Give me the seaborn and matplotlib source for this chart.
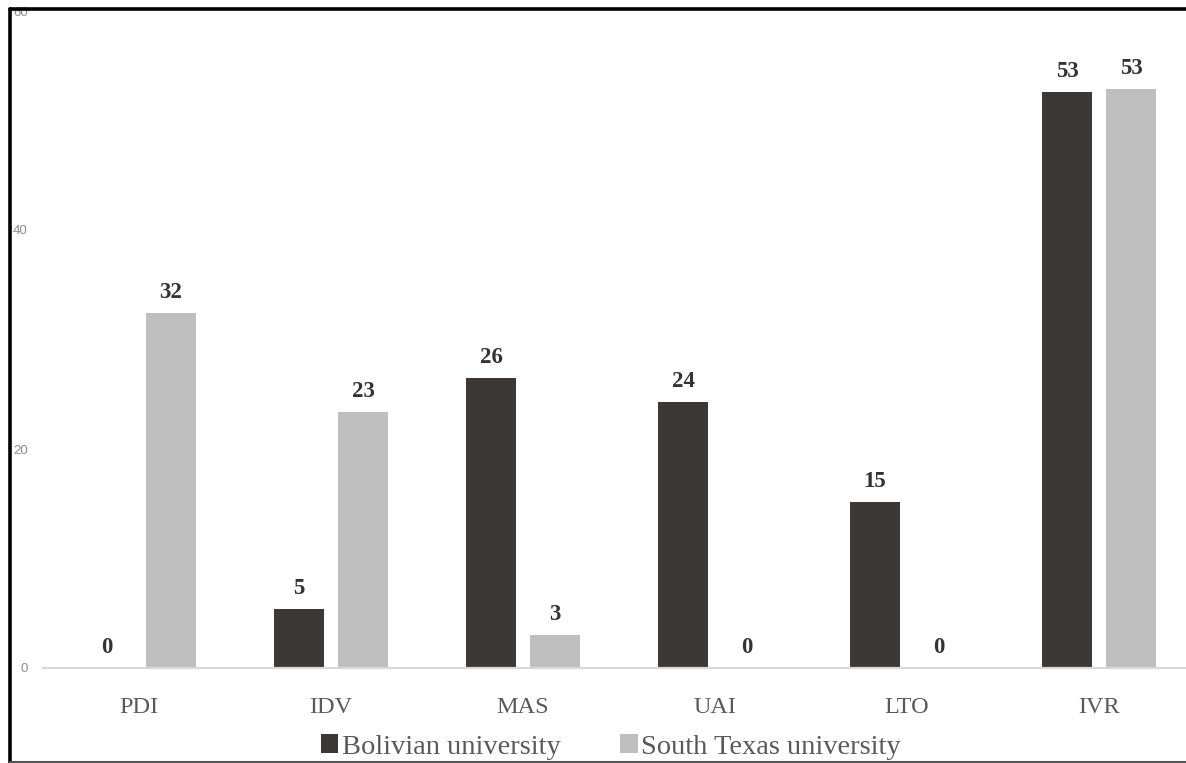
import matplotlib
matplotlib.use("Agg")
import matplotlib.pyplot as plt
from matplotlib.lines import Line2D
from matplotlib.patches import Patch
import seaborn as sns
import pandas as pd

categories = ["PDI", "IDV", "MAS", "UAI", "LTO", "IVR"]
bolivian = [0, 5.4, 26.5, 24.3, 15.2, 52.6]
south_texas = [32.4, 23.4, 3.0, 0, 0, 52.9]
bolivian_labels = ["0", "5", "26", "24", "15", "53"]
south_texas_labels = ["32", "23", "3", "0", "0", "53"]
series = ["Bolivian university", "South Texas university"]
yticks = [0, 20, 40, 60]

df = pd.DataFrame({
    "category": categories * 2,
    "value": bolivian + south_texas,
    "series": [series[0]] * len(categories) + [series[1]] * len(categories),
})

sns.set_theme(style="white")
plt.rcParams["font.family"] = ["Liberation Serif", "DejaVu Serif"]

W, H = 1186, 763
fig = plt.figure(figsize=(W / 100, H / 100), dpi=100)
ax = fig.add_axes([43 / W, (H - 668) / H, 1152 / W, (668 - 11) / H])

palette = {series[0]: "#3b3836", series[1]: "#bfbfbf"}
sns.barplot(data=df, x="category", y="value", hue="series", order=categories,
            hue_order=series, palette=palette, width=0.667, gap=0.22,
            saturation=1, ax=ax, legend=False, edgecolor="none")

for cont, labs in zip(ax.containers, [bolivian_labels, south_texas_labels]):
    ax.bar_label(cont, labels=labs, padding=7, fontsize=16.5, fontweight="bold",
                 color="#333333", family=["Liberation Serif"])

ax.set_xlim(-0.5, 5.5)
ax.set_ylim(0, 60)
ax.set_yticks(yticks)
ax.set_yticklabels([str(t) for t in yticks], family=["Liberation Sans"],
                   fontsize=9.5, color="#8c8c8c")
ax.tick_params(axis="y", length=0, pad=11)
ax.tick_params(axis="x", length=0, pad=21, labelsize=17.5, labelcolor="#595959")
ax.set_xlabel("")
ax.set_ylabel("")
for s in ["top", "right", "left"]:
    ax.spines[s].set_visible(False)
ax.spines["bottom"].set_color("#d9d9d9")
ax.spines["bottom"].set_linewidth(1.6)
ax.grid(False)

handles = [Patch(facecolor=palette[s], edgecolor="none", label=s) for s in series]
fig.legend(handles=handles, loc="center", bbox_to_anchor=(611 / W, 1 - 747 / H),
           ncol=2, frameon=False, fontsize=20.5, labelcolor="#595959",
           handlelength=0.6, handleheight=0.6, handletextpad=0.12,
           columnspacing=2.1, borderpad=0)

# image frame
fig.add_artist(Line2D([10 / W, 1], [1 - 8.5 / H, 1 - 8.5 / H], transform=fig.transFigure,
                      color="black", linewidth=2.6))
fig.add_artist(Line2D([10 / W, 10 / W], [0, 1 - 8.5 / H], transform=fig.transFigure,
                      color="black", linewidth=2.6))
fig.add_artist(Line2D([10 / W, 1], [0.8 / H, 0.8 / H], transform=fig.transFigure,
                      color="#555555", linewidth=1.5))

fig.savefig("out.png", dpi=100)
